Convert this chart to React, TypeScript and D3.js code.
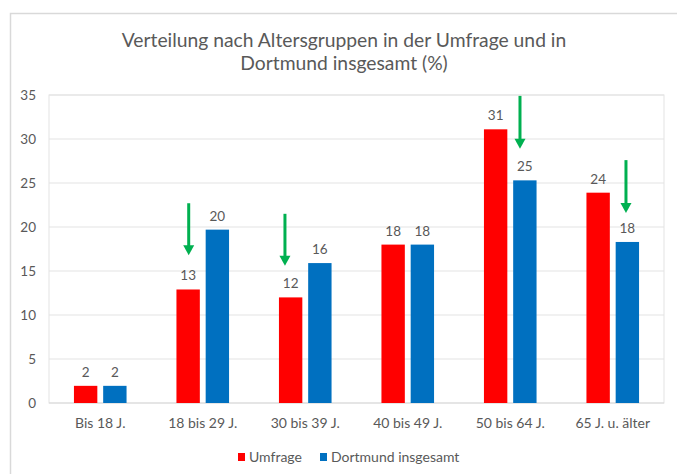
import React from "react";
import * as d3 from "d3";

const categories = ["Bis 18 J.", "18 bis 29 J.", "30 bis 39 J.", "40 bis 49 J.", "50 bis 64 J.", "65 J. u. älter"];
const seriesNames = ["Umfrage", "Dortmund insgesamt"];
const umfrage = [1.95, 12.9, 12.0, 18.0, 31.1, 23.9];
const dortmund = [1.95, 19.7, 15.9, 18.0, 25.3, 18.3];
const yTicks = [0, 5, 10, 15, 20, 25, 30, 35];
const titleLines = ["Verteilung nach Altersgruppen in der Umfrage und in", "Dortmund insgesamt (%)"];

// annotation arrows (data units)
const arrowCats = ["18 bis 29 J.", "30 bis 39 J.", "50 bis 64 J.", "65 J. u. älter"];
const arrowShift = [-0.137, -0.198, 0.095, 0.129];
const arrowFrom = [22.7, 21.5, 34.9, 27.6];
const arrowTo = [16.8, 15.6, 28.9, 21.6];

const W = 677;
const H = 474;
const plot = { left: 49, right: 664, top: 95, bottom: 403 };
const colors = ["#FF0000", "#0070C0"];
const textColor = "#595959";
const font = "Lato, 'Open Sans', sans-serif";

export default function App() {
  const x0 = d3.scaleBand<string>().domain(categories).range([plot.left, plot.right]).padding(0);
  const y = d3.scaleLinear().domain([0, 35]).range([plot.bottom, plot.top]);
  const pairW = 52.6;
  const x1 = d3.scaleBand<string>().domain(seriesNames).range([0, pairW]).paddingInner(0.2).paddingOuter(0);
  const off = (x0.bandwidth() - pairW) / 2;
  const values = [umfrage, dortmund];
  const fmt = d3.format(".0f");

  return (
    <svg width={W} height={H} style={{ position: "absolute", left: 0, top: 0, background: "#fff" }}>
      <rect x={10.5} y={13.5} width={W} height={H} fill="#fff" stroke="#d9d9d9" strokeWidth={1.5} />
      {titleLines.map((t, i) => (
        <text key={i} x={344} y={47 + i * 23} textAnchor="middle" fontFamily={font} fontSize={19.3} fill={textColor}>
          {t}
        </text>
      ))}
      {/* plot area border */}
      <rect x={plot.left} y={plot.top} width={plot.right - plot.left} height={plot.bottom - plot.top} fill="none" stroke="#e3e3e3" strokeWidth={1} />
      {yTicks.map((t) => (
        <g key={t}>
          {t > 0 && <line x1={plot.left} x2={plot.right} y1={y(t)} y2={y(t)} stroke="#e3e3e3" strokeWidth={1} />}
          <text x={36} y={y(t)} dy="0.35em" textAnchor="end" fontFamily={font} fontSize={13.5} fill={textColor}>
            {t}
          </text>
        </g>
      ))}
      <line x1={plot.left} x2={plot.right} y1={y(0)} y2={y(0)} stroke="#d9d9d9" strokeWidth={1} />
      {categories.map((c, ci) => (
        <g key={c}>
          {seriesNames.map((s, si) => {
            const v = values[si][ci];
            const bx = (x0(c) as number) + off + (x1(s) as number);
            return (
              <g key={s}>
                <rect x={bx} y={y(v)} width={x1.bandwidth()} height={y(0) - y(v)} fill={colors[si]} />
                <text x={bx + x1.bandwidth() / 2} y={y(v) - 9} textAnchor="middle" fontFamily={font} fontSize={13.5} fill={textColor}>
                  {fmt(v)}
                </text>
              </g>
            );
          })}
          <text x={(x0(c) as number) + x0.bandwidth() / 2} y={428} textAnchor="middle" fontFamily={font} fontSize={14} fill={textColor}>
            {c}
          </text>
        </g>
      ))}
      {arrowCats.map((c, i) => {
        const ax = (x0(c) as number) + x0.bandwidth() / 2 + arrowShift[i] * x0.bandwidth();
        const y1 = y(arrowFrom[i]);
        const y2 = y(arrowTo[i]);
        const head = 10;
        return (
          <g key={c}>
            <line x1={ax} x2={ax} y1={y1} y2={y2 - head + 1} stroke="#00B050" strokeWidth={3} />
            <path d={`M${ax - 5.5},${y2 - head} L${ax + 5.5},${y2 - head} L${ax},${y2} Z`} fill="#00B050" />
          </g>
        );
      })}
      {/* legend */}
      {seriesNames.map((s, i) => {
        const lx = [238, 320][i];
        return (
          <g key={s}>
            <rect x={lx} y={453} width={7} height={8} fill={colors[i]} />
            <text x={lx + 11} y={457} dy="0.35em" fontFamily={font} fontSize={14} fill={textColor}>
              {s}
            </text>
          </g>
        );
      })}
    </svg>
  );
}
